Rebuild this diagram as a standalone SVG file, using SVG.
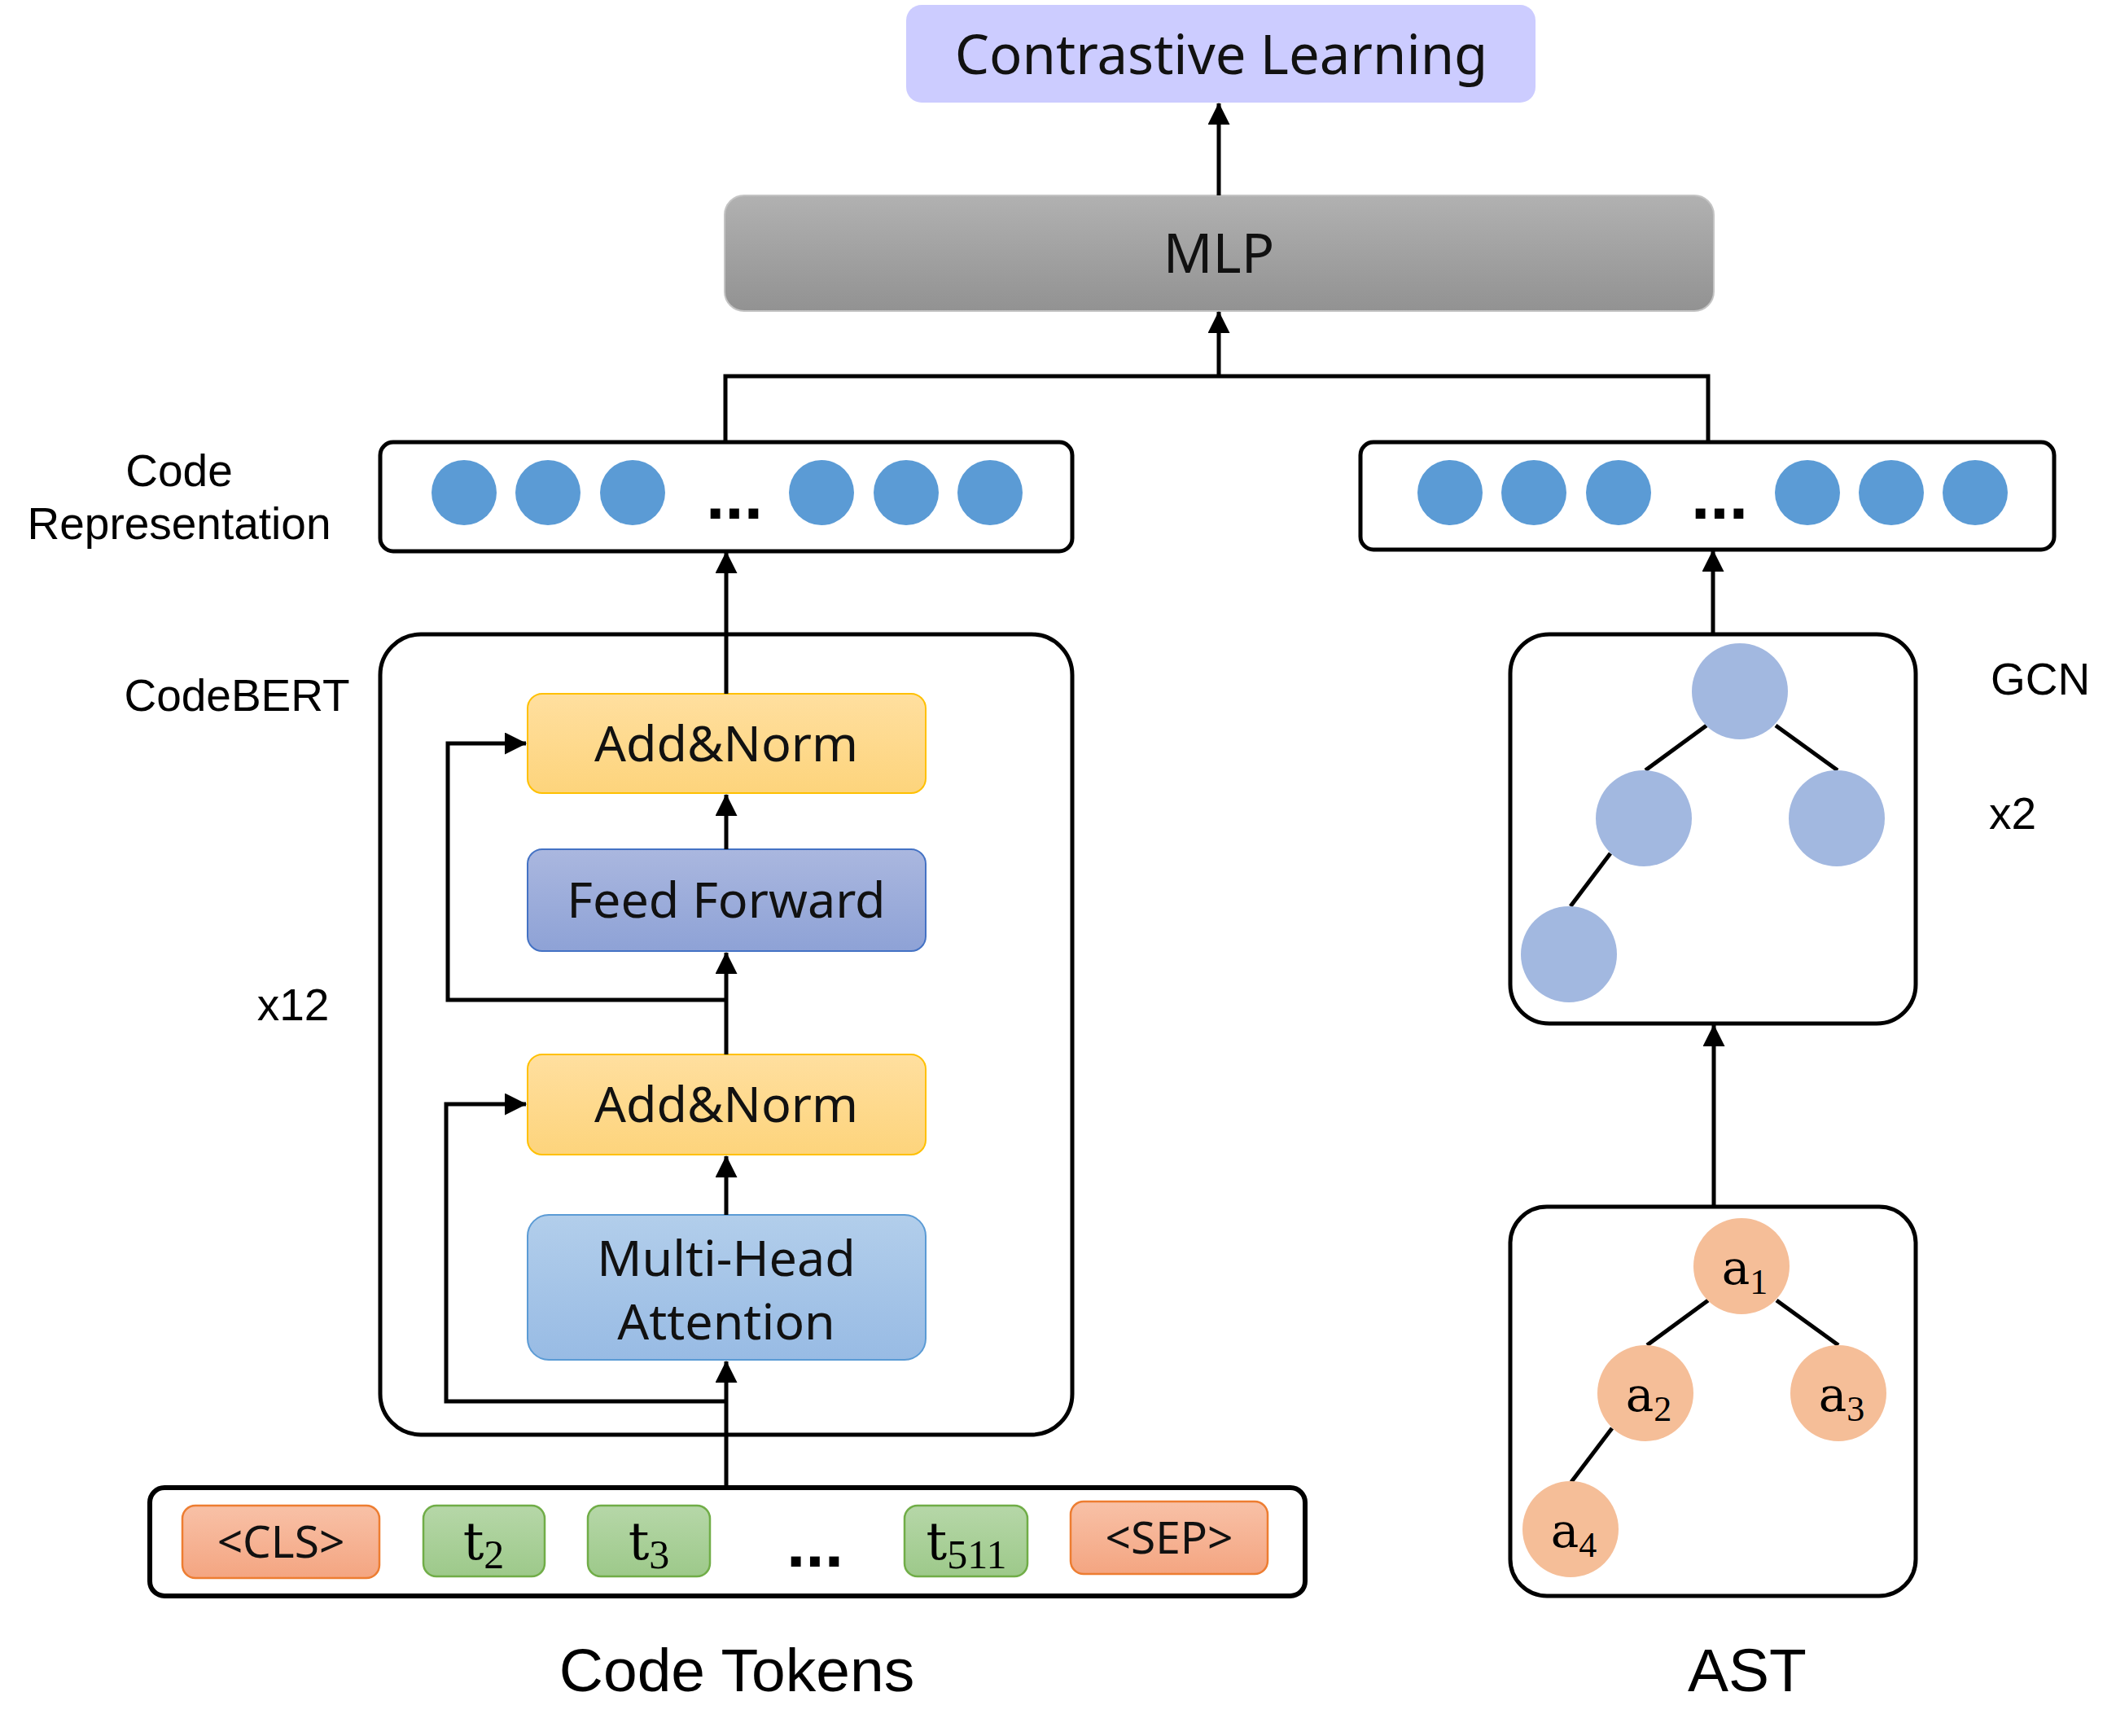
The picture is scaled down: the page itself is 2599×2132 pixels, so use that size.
<svg xmlns="http://www.w3.org/2000/svg" width="2599" height="2132" viewBox="0 0 2599 2132">
<defs>
<linearGradient id="gMLP" x1="0" y1="0" x2="0" y2="1"><stop offset="0" stop-color="#B1B1B1"/><stop offset="1" stop-color="#929292"/></linearGradient>
<linearGradient id="gAdd" x1="0" y1="0" x2="0" y2="1"><stop offset="0" stop-color="#FFDF9F"/><stop offset="1" stop-color="#FDD47C"/></linearGradient>
<linearGradient id="gFF" x1="0" y1="0" x2="0" y2="1"><stop offset="0" stop-color="#AAB7DF"/><stop offset="1" stop-color="#8EA2D6"/></linearGradient>
<linearGradient id="gMHA" x1="0" y1="0" x2="0" y2="1"><stop offset="0" stop-color="#B2CEEB"/><stop offset="1" stop-color="#98BBE4"/></linearGradient>
<linearGradient id="gSp" x1="0" y1="0" x2="0" y2="1"><stop offset="0" stop-color="#F8C1A7"/><stop offset="1" stop-color="#F4A581"/></linearGradient>
<linearGradient id="gT" x1="0" y1="0" x2="0" y2="1"><stop offset="0" stop-color="#B6D7A8"/><stop offset="1" stop-color="#9DC98A"/></linearGradient>
<marker id="arr" viewBox="0 0 27 27" refX="26" refY="13.5" markerWidth="27" markerHeight="27" markerUnits="userSpaceOnUse" orient="auto"><path d="M0,0 L27,13.5 L0,27 z" fill="#000"/></marker>
</defs>
<style>
.lbl{font-family:"Liberation Sans",Arial,sans-serif;font-size:55px;fill:#000;text-anchor:middle}
.big{font-family:"Liberation Sans",Arial,sans-serif;font-size:75px;fill:#000;text-anchor:middle}
.bx{font-family:"Noto Sans","Open Sans",sans-serif;font-size:61px;fill:#111;text-anchor:middle}
.tk{font-family:"Noto Sans","Open Sans",sans-serif;font-size:55px;fill:#111;text-anchor:middle}
.mt{font-family:"DejaVu Serif","Liberation Serif",serif;fill:#000;text-anchor:middle}
.sub{font-family:"Liberation Serif","Times New Roman",serif}
.dots{font-family:"Liberation Sans",Arial,sans-serif;font-size:84px;font-weight:bold;fill:#000;text-anchor:middle}
.frame{fill:#fff;stroke:#000;stroke-width:5}
.rep{fill:#5B9BD5}
.gcn{fill:#A2B8E0}
.ast{fill:#F5BE98}
.edge{stroke:#000;stroke-width:5;fill:none}
.conn{stroke:#000;stroke-width:5;fill:none}
</style>

<g id="contrastive">
<rect x="1113" y="6" width="773" height="120" rx="19" fill="#CCCCFF"/>
<text class="bx" x="1500" y="91" style="font-size:67px">Contrastive Learning</text>
</g>

<g id="mlp">
<rect x="890" y="240" width="1215" height="142" rx="24" fill="url(#gMLP)" stroke="#C4C4C4" stroke-width="2"/>
<text class="bx" x="1497" y="335" style="font-size:67px">MLP</text>
</g>

<g id="code-rep">
<rect class="frame" x="467" y="543" width="850" height="134" rx="16"/>
<circle class="rep" cx="570" cy="605" r="40"/>
<circle class="rep" cx="673" cy="605" r="40"/>
<circle class="rep" cx="777" cy="605" r="40"/>
<text class="dots" x="902" y="637">...</text>
<circle class="rep" cx="1009" cy="605" r="40"/>
<circle class="rep" cx="1113" cy="605" r="40"/>
<circle class="rep" cx="1216" cy="605" r="40"/>
</g>
<g id="code-rep-label">
<text class="lbl" x="220" y="597">Code</text>
<text class="lbl" x="220" y="662">Representation</text>
</g>

<g id="ast-rep">
<rect class="frame" x="1671" y="543" width="852" height="132" rx="16"/>
<circle class="rep" cx="1781" cy="605" r="40"/>
<circle class="rep" cx="1884" cy="605" r="40"/>
<circle class="rep" cx="1988" cy="605" r="40"/>
<text class="dots" x="2112" y="637">...</text>
<circle class="rep" cx="2220" cy="605" r="40"/>
<circle class="rep" cx="2323" cy="605" r="40"/>
<circle class="rep" cx="2426" cy="605" r="40"/>
</g>

<g id="codebert">
<rect class="frame" x="467" y="779" width="850" height="983" rx="50"/>
<text class="lbl" x="291" y="873">CodeBERT</text>
<text class="lbl" x="360" y="1253">x12</text>
</g>

<g id="addnorm-top">
<rect x="648" y="852" width="489" height="122" rx="18" fill="url(#gAdd)" stroke="#FFC000" stroke-width="2"/>
<text class="bx" x="892" y="935">Add&amp;Norm</text>
</g>
<g id="feed-forward">
<rect x="648" y="1043" width="489" height="125" rx="18" fill="url(#gFF)" stroke="#4472C4" stroke-width="2"/>
<text class="bx" x="892" y="1127">Feed Forward</text>
</g>
<g id="addnorm-bottom">
<rect x="648" y="1295" width="489" height="123" rx="18" fill="url(#gAdd)" stroke="#FFC000" stroke-width="2"/>
<text class="bx" x="892" y="1378">Add&amp;Norm</text>
</g>
<g id="multi-head">
<rect x="648" y="1492" width="489" height="178" rx="26" fill="url(#gMHA)" stroke="#5B9BD5" stroke-width="2"/>
<text class="bx" x="892" y="1567">Multi-Head</text>
<text class="bx" x="892" y="1645">Attention</text>
</g>

<g id="code-tokens">
<rect class="frame" x="184" y="1827" width="1419" height="133" rx="18" style="stroke-width:6"/>
<rect x="224" y="1849" width="242" height="89" rx="16" fill="url(#gSp)" stroke="#ED7D31" stroke-width="2.5"/>
<text class="tk" x="345" y="1913">&lt;CLS&gt;</text>
<rect x="520" y="1849" width="149" height="87" rx="16" fill="url(#gT)" stroke="#70AD47" stroke-width="2.5"/>
<text class="mt" x="594" y="1915" style="font-size:64px">t<tspan class="sub" dy="11" style="font-size:50px">2</tspan></text>
<rect x="722" y="1849" width="150" height="87" rx="16" fill="url(#gT)" stroke="#70AD47" stroke-width="2.5"/>
<text class="mt" x="797" y="1915" style="font-size:64px">t<tspan class="sub" dy="11" style="font-size:50px">3</tspan></text>
<text class="dots" x="1001" y="1924">...</text>
<rect x="1111" y="1849" width="151" height="87" rx="16" fill="url(#gT)" stroke="#70AD47" stroke-width="2.5"/>
<text class="mt" x="1187" y="1915" style="font-size:64px">t<tspan class="sub" dy="11" style="font-size:50px">511</tspan></text>
<rect x="1315" y="1844" width="242" height="89" rx="16" fill="url(#gSp)" stroke="#ED7D31" stroke-width="2.5"/>
<text class="tk" x="1436" y="1908">&lt;SEP&gt;</text>
<text class="big" x="905" y="2077">Code Tokens</text>
</g>

<g id="gcn">
<rect class="frame" x="1855" y="779" width="498" height="478" rx="48"/>
<line class="edge" x1="2096" y1="891" x2="2021" y2="946"/>
<line class="edge" x1="2181" y1="891" x2="2257" y2="946"/>
<line class="edge" x1="1978" y1="1048" x2="1929" y2="1113"/>
<circle class="gcn" cx="2137" cy="849" r="59"/>
<circle class="gcn" cx="2019" cy="1005" r="59"/>
<circle class="gcn" cx="2256" cy="1005" r="59"/>
<circle class="gcn" cx="1927" cy="1172" r="59"/>
<text class="lbl" x="2506" y="853">GCN</text>
<text class="lbl" x="2472" y="1018">x2</text>
</g>

<g id="ast">
<rect class="frame" x="1855" y="1482" width="498" height="478" rx="45"/>
<line class="edge" x1="2098" y1="1597" x2="2023" y2="1652"/>
<line class="edge" x1="2182" y1="1597" x2="2258" y2="1652"/>
<line class="edge" x1="1980" y1="1754" x2="1930" y2="1820"/>
<circle class="ast" cx="2139" cy="1555" r="59"/>
<circle class="ast" cx="2021" cy="1711" r="59"/>
<circle class="ast" cx="2258" cy="1711" r="59"/>
<circle class="ast" cx="1929" cy="1878" r="59"/>
<text class="mt" x="2143" y="1577" style="font-size:58px">a<tspan class="sub" dy="12" style="font-size:44px">1</tspan></text>
<text class="mt" x="2025" y="1733" style="font-size:58px">a<tspan class="sub" dy="12" style="font-size:44px">2</tspan></text>
<text class="mt" x="2262" y="1733" style="font-size:58px">a<tspan class="sub" dy="12" style="font-size:44px">3</tspan></text>
<text class="mt" x="1933" y="1900" style="font-size:58px">a<tspan class="sub" dy="12" style="font-size:44px">4</tspan></text>
<text class="big" x="2146" y="2077">AST</text>
</g>

<g id="connectors">
<line class="conn" x1="1497" y1="240" x2="1497" y2="127" marker-end="url(#arr)"/>
<polyline class="conn" points="891,543 891,462 2098,462 2098,543"/>
<line class="conn" x1="1497" y1="462" x2="1497" y2="383" marker-end="url(#arr)"/>
<line class="conn" x1="892" y1="852" x2="892" y2="678" marker-end="url(#arr)"/>
<line class="conn" x1="2104" y1="779" x2="2104" y2="676" marker-end="url(#arr)"/>
<line class="conn" x1="2105" y1="1482" x2="2105" y2="1259" marker-end="url(#arr)"/>
<line class="conn" x1="892" y1="1043" x2="892" y2="976" marker-end="url(#arr)"/>
<line class="conn" x1="892" y1="1295" x2="892" y2="1170" marker-end="url(#arr)"/>
<line class="conn" x1="892" y1="1492" x2="892" y2="1420" marker-end="url(#arr)"/>
<line class="conn" x1="892" y1="1827" x2="892" y2="1672" marker-end="url(#arr)"/>
<polyline class="conn" points="892,1228 550,1228 550,913 646,913" marker-end="url(#arr)"/>
<polyline class="conn" points="892,1721 548,1721 548,1356 646,1356" marker-end="url(#arr)"/>
</g>
</svg>
